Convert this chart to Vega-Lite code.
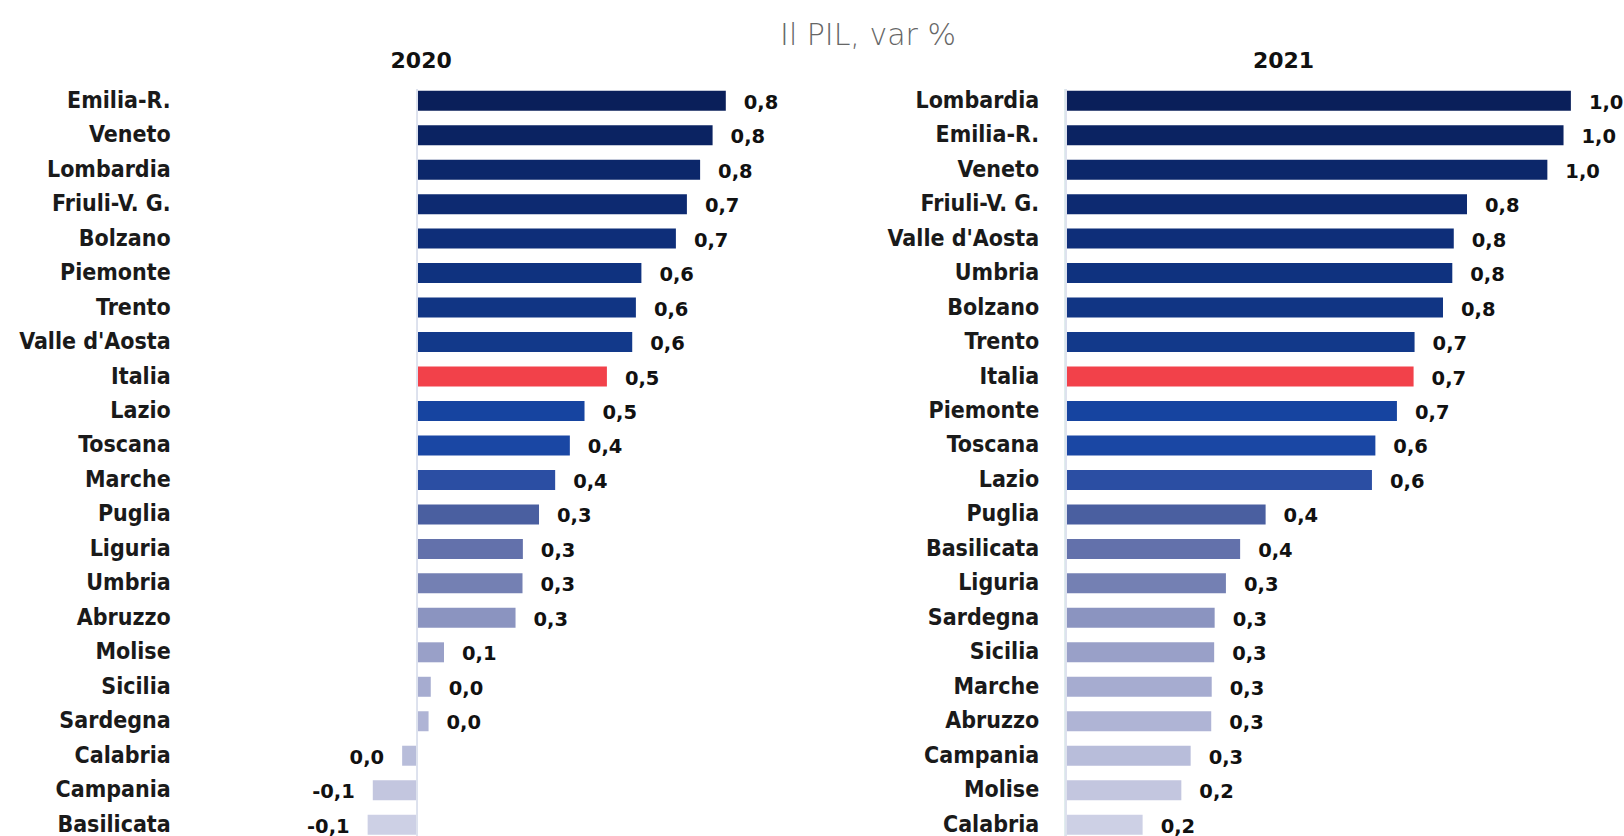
{
  "$schema": "https://vega.github.io/schema/vega-lite/v6.json",
  "background": "white",
  "padding": {"left": 18, "top": 21, "right": 0, "bottom": 0},
  "bounds": "flush",
  "spacing": 262.7,
  "title": {"text": "Il PIL, var %", "font": "DejaVu Sans", "fontSize": 30, "fontWeight": 300, "color": "#666666", "anchor": "middle", "dx": 47, "offset": -1},
  "config": {
    "locale": {"number": {"decimal": ",", "thousands": ".", "grouping": [3], "currency": ["", " €"], "minus": "-"}},
    "view": {"stroke": null}
  },
  "datasets": {
    "pil": [
      {"regione": "Emilia-R.", "anno": 2020, "valore": 0.841},
      {"regione": "Veneto", "anno": 2020, "valore": 0.805},
      {"regione": "Lombardia", "anno": 2020, "valore": 0.771},
      {"regione": "Friuli-V. G.", "anno": 2020, "valore": 0.735},
      {"regione": "Bolzano", "anno": 2020, "valore": 0.705},
      {"regione": "Piemonte", "anno": 2020, "valore": 0.611},
      {"regione": "Trento", "anno": 2020, "valore": 0.596},
      {"regione": "Valle d'Aosta", "anno": 2020, "valore": 0.586},
      {"regione": "Italia", "anno": 2020, "valore": 0.517},
      {"regione": "Lazio", "anno": 2020, "valore": 0.456},
      {"regione": "Toscana", "anno": 2020, "valore": 0.416},
      {"regione": "Marche", "anno": 2020, "valore": 0.376},
      {"regione": "Puglia", "anno": 2020, "valore": 0.332},
      {"regione": "Liguria", "anno": 2020, "valore": 0.288},
      {"regione": "Umbria", "anno": 2020, "valore": 0.287},
      {"regione": "Abruzzo", "anno": 2020, "valore": 0.268},
      {"regione": "Molise", "anno": 2020, "valore": 0.073},
      {"regione": "Sicilia", "anno": 2020, "valore": 0.037},
      {"regione": "Sardegna", "anno": 2020, "valore": 0.031},
      {"regione": "Calabria", "anno": 2020, "valore": -0.041},
      {"regione": "Campania", "anno": 2020, "valore": -0.121},
      {"regione": "Basilicata", "anno": 2020, "valore": -0.135},
      {"regione": "Lombardia", "anno": 2021, "valore": 1.031},
      {"regione": "Emilia-R.", "anno": 2021, "valore": 1.016},
      {"regione": "Veneto", "anno": 2021, "valore": 0.983},
      {"regione": "Friuli-V. G.", "anno": 2021, "valore": 0.819},
      {"regione": "Valle d'Aosta", "anno": 2021, "valore": 0.792},
      {"regione": "Umbria", "anno": 2021, "valore": 0.789},
      {"regione": "Bolzano", "anno": 2021, "valore": 0.770},
      {"regione": "Trento", "anno": 2021, "valore": 0.712},
      {"regione": "Italia", "anno": 2021, "valore": 0.710},
      {"regione": "Piemonte", "anno": 2021, "valore": 0.676},
      {"regione": "Toscana", "anno": 2021, "valore": 0.632},
      {"regione": "Lazio", "anno": 2021, "valore": 0.625},
      {"regione": "Puglia", "anno": 2021, "valore": 0.408},
      {"regione": "Basilicata", "anno": 2021, "valore": 0.356},
      {"regione": "Liguria", "anno": 2021, "valore": 0.327},
      {"regione": "Sardegna", "anno": 2021, "valore": 0.304},
      {"regione": "Sicilia", "anno": 2021, "valore": 0.303},
      {"regione": "Marche", "anno": 2021, "valore": 0.298},
      {"regione": "Abruzzo", "anno": 2021, "valore": 0.297},
      {"regione": "Campania", "anno": 2021, "valore": 0.255},
      {"regione": "Molise", "anno": 2021, "valore": 0.236},
      {"regione": "Calabria", "anno": 2021, "valore": 0.157}
    ]
  },
  "hconcat": [
    {
      "width": 605.5,
      "height": 747.4,
      "title": {"text": "2020", "font": "DejaVu Sans", "fontSize": 22, "fontWeight": "bold", "color": "#111111", "frame": "group", "anchor": "middle", "dx": -78.6, "offset": 15},
      "data": {"name": "pil"},
      "transform": [
        {"filter": "datum.anno === 2020"},
        {"window": [{"op": "row_number", "as": "rango"}], "sort": [{"field": "valore", "order": "descending"}]}
      ],
      "encoding": {
        "y": {"field": "regione", "type": "nominal", "sort": {"field": "valore", "order": "descending"}, "scale": {"paddingInner": 0.42, "paddingOuter": 0.05},
          "axis": {"title": null, "domain": false, "ticks": false, "tickSize": 0, "labelPadding": 26.8, "labelFont": "DejaVu Sans Condensed", "labelFontWeight": "bold", "labelFontSize": 23, "labelColor": "#1a1a1a", "labelLimit": 0}},
        "x": {"field": "valore", "type": "quantitative", "scale": {"domain": [-0.6, 1.05], "nice": false, "zero": false}, "axis": null}
      },
      "layer": [
        {
          "mark": {"type": "bar"},
          "encoding": {
            "color": {"condition": {"test": "datum.regione === 'Italia'", "value": "#f2414a"}, "field": "rango", "type": "quantitative", "legend": null,
              "scale": {"domain": [1, 3, 5, 8, 10, 11, 12, 13, 14, 15, 16, 18, 20, 22], "range": ["#0a1f5a", "#0c276a", "#0e2e79", "#12398a", "#1644a0", "#1a47a4", "#2b4ea3", "#4a5fa0", "#6371ab", "#7480b3", "#8b94c0", "#a6acd0", "#b8bdda", "#cdd0e5"]}}
          }
        },
        {
          "mark": {"type": "rule", "color": "#dde2ee", "strokeWidth": 1.5},
          "encoding": {"x": {"datum": 0, "type": "quantitative"}, "y": null}
        },
        {
          "mark": {"type": "text", "align": "left", "baseline": "middle", "dx": 18, "dy": 2, "font": "DejaVu Sans", "fontSize": 19.5, "fontWeight": "bold", "color": "#111111"},
          "encoding": {
            "text": {"condition": {"test": "datum.valore < 0", "value": ""}, "field": "valore", "type": "quantitative", "format": ".1f"}
          }
        },
        {
          "mark": {"type": "text", "align": "right", "baseline": "middle", "dx": -18, "dy": 2, "font": "DejaVu Sans", "fontSize": 19.5, "fontWeight": "bold", "color": "#111111"},
          "encoding": {
            "text": {"condition": {"test": "datum.valore >= 0", "value": ""}, "field": "valore", "type": "quantitative", "format": ".1f"}
          }
        }
      ]
    },
    {
      "width": 553.7,
      "height": 747.4,
      "title": {"text": "2021", "font": "DejaVu Sans", "fontSize": 22, "fontWeight": "bold", "color": "#111111", "frame": "group", "anchor": "middle", "dx": -59, "offset": 15},
      "data": {"name": "pil"},
      "transform": [
        {"filter": "datum.anno === 2021"},
        {"window": [{"op": "row_number", "as": "rango"}], "sort": [{"field": "valore", "order": "descending"}]}
      ],
      "encoding": {
        "y": {"field": "regione", "type": "nominal", "sort": {"field": "valore", "order": "descending"}, "scale": {"paddingInner": 0.42, "paddingOuter": 0.05},
          "axis": {"title": null, "domain": false, "ticks": false, "tickSize": 0, "labelPadding": 27, "labelFont": "DejaVu Sans Condensed", "labelFontWeight": "bold", "labelFontSize": 23, "labelColor": "#1a1a1a", "labelLimit": 0}},
        "x": {"field": "valore", "type": "quantitative", "scale": {"domain": [0, 1.13], "nice": false, "zero": false}, "axis": null}
      },
      "layer": [
        {
          "mark": {"type": "bar"},
          "encoding": {
            "color": {"condition": {"test": "datum.regione === 'Italia'", "value": "#f2414a"}, "field": "rango", "type": "quantitative", "legend": null,
              "scale": {"domain": [1, 3, 5, 8, 10, 11, 12, 13, 14, 15, 16, 18, 20, 22], "range": ["#0a1f5a", "#0c276a", "#0e2e79", "#12398a", "#1644a0", "#1a47a4", "#2b4ea3", "#4a5fa0", "#6371ab", "#7480b3", "#8b94c0", "#a6acd0", "#b8bdda", "#cdd0e5"]}}
          }
        },
        {
          "mark": {"type": "rule", "color": "#dde2ee", "strokeWidth": 1.5},
          "encoding": {"x": {"datum": 0, "type": "quantitative"}, "y": null}
        },
        {
          "mark": {"type": "text", "align": "left", "baseline": "middle", "dx": 18, "dy": 2, "font": "DejaVu Sans", "fontSize": 19.5, "fontWeight": "bold", "color": "#111111"},
          "encoding": {
            "text": {"field": "valore", "type": "quantitative", "format": ".1f"}
          }
        }
      ]
    }
  ]
}
